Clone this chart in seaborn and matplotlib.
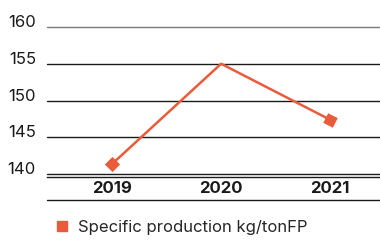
import matplotlib
matplotlib.use("Agg")
import matplotlib.pyplot as plt
import seaborn as sns
import pandas as pd
from matplotlib.markers import MarkerStyle
from matplotlib.transforms import Affine2D, ScaledTranslation
from matplotlib.lines import Line2D

years = ["2019", "2020", "2021"]
values = [141.4, 155.0, 147.4]
yticks = [140, 145, 150, 155, 160]
series_name = "Specific production kg/tonFP"
color = "#EA5B3C"

sns.set_theme(style="white")
plt.rcParams["font.family"] = ["Inter", "DejaVu Sans"]

df = pd.DataFrame({"year": years, "value": values, "x": range(len(years))})

fig = plt.figure(figsize=(3.8, 2.43), dpi=100)
ax = fig.add_axes([47/380, 1-177/243, 1-47/380, 150/243])

sns.lineplot(data=df, x="x", y="value", color=color, linewidth=1.8, ax=ax, legend=False)

m0 = MarkerStyle("s", transform=Affine2D().rotate_deg(45))
m2 = MarkerStyle("s", transform=Affine2D().rotate_deg(-27))
ax.scatter([df["x"].iloc[0]], [df["value"].iloc[0]], marker=m0, s=60, color=color, zorder=4, linewidths=0)
ax.scatter([df["x"].iloc[-1]], [df["value"].iloc[-1]], marker=m2, s=60, color=color, zorder=4, linewidths=0)

ax.set_xlim(-0.6, 2.46)
ax.set_ylim(139.6, 160)

for v in yticks:
    c = "#7a7a7a" if v == 160 else "#1a1a1a"
    ax.axhline(v, color=c, linewidth=1.0, zorder=1, clip_on=False)

for s in ["top", "right", "left"]:
    ax.spines[s].set_visible(False)
ax.spines["bottom"].set_color("#1a1a1a")
ax.spines["bottom"].set_linewidth(1.0)
ax.plot([0, 1], [-0.153, -0.153], transform=ax.transAxes, color="#1a1a1a", linewidth=1.0, clip_on=False)

ax.set_yticks(yticks)
ax.set_yticklabels([str(v) for v in yticks], fontsize=12, color="#1a1a1a")
off = ScaledTranslation(0, -2/100, fig.dpi_scale_trans)
for lbl in ax.get_yticklabels():
    lbl.set_verticalalignment("baseline")
    lbl.set_transform(lbl.get_transform() + off)
ax.tick_params(axis="y", length=0, pad=8)
ax.set_xticks(df["x"])
ax.set_xticklabels(years, fontsize=12, fontweight="bold", color="#1a1a1a")
ax.tick_params(axis="x", length=0, pad=3)
ax.set_xlabel("")
ax.set_ylabel("")

handle = Line2D([], [], marker="s", linestyle="none", color=color, markersize=7.5)
fig.legend([handle], [series_name], loc="center left", bbox_to_anchor=(54/380, 1-227/243),
           frameon=False, fontsize=12, handletextpad=0.45, borderaxespad=0, borderpad=0,
           handlelength=1.0)

fig.savefig("out.png", dpi=100)
